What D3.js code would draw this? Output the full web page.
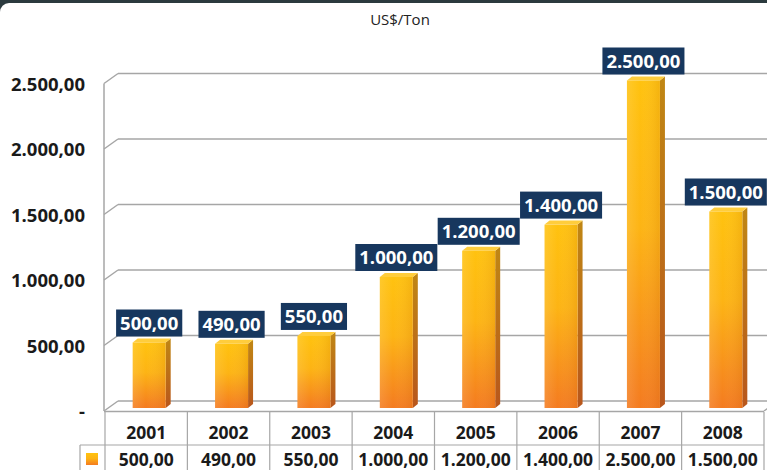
<!DOCTYPE html>
<html>
<head>
<meta charset="utf-8">
<script src="https://cdnjs.cloudflare.com/ajax/libs/d3/7.8.5/d3.min.js"></script>
<style>
  body { margin: 0; background: #fff; }
  svg { display: block; }
</style>
</head>
<body>
<svg id="chart" width="767" height="470"></svg>
<script>
// data
const years = ["2001", "2002", "2003", "2004", "2005", "2006", "2007", "2008"];
const prices = [500, 490, 550, 1000, 1200, 1400, 2500, 1500];
const yTicks = [0, 500, 1000, 1500, 2000, 2500];
const unitLabel = "US$/Ton";

const fontFamily = "'Open Sans', 'Noto Sans', sans-serif";

const ptBR = d3.formatLocale({ decimal: ",", thousands: ".", grouping: [3], currency: ["", ""] });
const num = ptBR.format(",.2f");
const fmt = v => v === 0 ? "-" : num(v);

const svg = d3.select("#chart");
const W = 767, H = 470;

// depth offset of the 3d walls
const dx = 14, dy = -10;
// bars sit a little behind the front plane
const bdx = 3, bdy = -3;
const sideW = 5, topH = 4, barW = 33;

const x = d3.scaleBand().domain(years).range([105, 764]).paddingInner(0);
const y = d3.scaleLinear().domain([0, 2500]).range([411, 83.5]);

//// frame
svg.append("rect").attr("x", 0).attr("y", 0).attr("width", W).attr("height", 14).attr("fill", "#2b3a3e");
svg.append("rect").attr("x", 0).attr("y", 3).attr("width", W + 20).attr("height", H).attr("rx", 9).attr("fill", "#fff");

svg.append("text")
  .attr("x", 400).attr("y", 25)
  .attr("text-anchor", "middle")
  .attr("font-family", fontFamily)
  .attr("font-size", 15)
  .attr("fill", "#222")
  .text(unitLabel);

//// defs: gradients
const defs = svg.append("defs");
const gFront = defs.append("linearGradient").attr("id", "gFront").attr("x1", 0).attr("y1", 0).attr("x2", 0).attr("y2", 1);
gFront.append("stop").attr("offset", "0%").attr("stop-color", "#ffc20f");
gFront.append("stop").attr("offset", "45%").attr("stop-color", "#fdb414");
gFront.append("stop").attr("offset", "100%").attr("stop-color", "#f47b20");
const gSide = defs.append("linearGradient").attr("id", "gSide").attr("x1", 0).attr("y1", 0).attr("x2", 0).attr("y2", 1);
gSide.append("stop").attr("offset", "0%").attr("stop-color", "#c08714");
gSide.append("stop").attr("offset", "100%").attr("stop-color", "#b8561c");
const gShade = defs.append("linearGradient").attr("id", "gShade").attr("x1", 0).attr("y1", 0).attr("x2", 1).attr("y2", 0);
gShade.append("stop").attr("offset", "0%").attr("stop-color", "#fff").attr("stop-opacity", 0.12);
gShade.append("stop").attr("offset", "40%").attr("stop-color", "#fff").attr("stop-opacity", 0);
gShade.append("stop").attr("offset", "100%").attr("stop-color", "#a04000").attr("stop-opacity", 0.12);

//// walls and gridlines
const grid = svg.append("g").attr("stroke", "#a6a6a6").attr("stroke-width", 1.5).attr("fill", "none");
yTicks.forEach(function(v){
  grid.append("line").attr("x1", 104 + dx).attr("x2", W + 2).attr("y1", y(v) + dy).attr("y2", y(v) + dy);
  grid.append("line").attr("x1", 104).attr("x2", 104 + dx).attr("y1", y(v)).attr("y2", y(v) + dy);
});
grid.append("line").attr("x1", 104).attr("x2", 104).attr("y1", y(2500)).attr("y2", y(0));
// floor front edge / table top
grid.append("line").attr("x1", 104).attr("x2", 764).attr("y1", y(0) + 0.5).attr("y2", y(0) + 0.5);
grid.append("line").attr("x1", 764).attr("x2", 764 + dx).attr("y1", y(0)).attr("y2", y(0) + dy);

//// y axis labels
const yAxis = d3.axisLeft(y).tickValues(yTicks).tickFormat(fmt).tickSize(0).tickPadding(0);
const ya = svg.append("g").attr("transform", "translate(85,0)").call(yAxis);
ya.select(".domain").remove();
ya.selectAll("text")
  .attr("font-family", fontFamily)
  .attr("font-size", 18.5)
  .attr("font-weight", "bold")
  .attr("fill", "#1a1a1a")
  .attr("dy", "0.36em");

//// bars
const bars = svg.append("g").selectAll("g")
  .data(years.map((yr, i) => ({ year: yr, value: prices[i] })))
  .join("g");

bars.each(function(d){
  const g = d3.select(this);
  const x0 = x(d.year) + x.bandwidth() / 2 - barW / 2 + bdx;
  const x1 = x0 + barW;
  const yt = y(d.value) + bdy;
  const yb = y(0) + bdy;
  g.append("path")
    .attr("d", `M${x1},${yt}L${x1 + sideW},${yt - topH}L${x1 + sideW},${yb - topH}L${x1},${yb}Z`)
    .attr("fill", "url(#gSide)");
  g.append("path")
    .attr("d", `M${x0},${yt}L${x0 + sideW},${yt - topH}L${x1 + sideW},${yt - topH}L${x1},${yt}Z`)
    .attr("fill", "#ffcd3c");
  g.append("rect").attr("x", x0).attr("y", yt).attr("width", barW).attr("height", yb - yt).attr("fill", "url(#gFront)");
  g.append("rect").attr("x", x0).attr("y", yt).attr("width", barW).attr("height", yb - yt).attr("fill", "url(#gShade)");

  // data label
  const cx = x0 + barW / 2;
  const t = g.append("text")
    .attr("x", cx).attr("y", yt - topH - 9)
    .attr("text-anchor", "middle")
    .attr("font-family", fontFamily)
    .attr("font-size", 18.5)
    .attr("font-weight", "bold")
    .attr("fill", "#fff")
    .text(num(d.value));
  const bb = t.node().getBBox();
  g.insert("rect", "text")
    .attr("x", bb.x - 4).attr("y", yt - topH - 29)
    .attr("width", bb.width + 8).attr("height", 27)
    .attr("fill", "#17375e");
});

//// data table
const tbl = svg.append("g");
const rowTop = 412, rowMid = 445, rowBot = 472;
const lines = tbl.append("g").attr("stroke", "#a6a6a6").attr("stroke-width", 1.2);
years.forEach(function(yr){
  lines.append("line").attr("x1", x(yr)).attr("x2", x(yr)).attr("y1", rowTop).attr("y2", rowBot);
});
lines.append("line").attr("x1", 764).attr("x2", 764).attr("y1", rowTop).attr("y2", rowBot);
lines.append("line").attr("x1", 80).attr("x2", 764).attr("y1", rowMid).attr("y2", rowMid);
lines.append("line").attr("x1", 80).attr("x2", 80).attr("y1", rowMid).attr("y2", rowBot);

tbl.selectAll(".yr")
  .data(years)
  .join("text")
  .attr("class", "yr")
  .attr("x", d => x(d) + x.bandwidth() / 2)
  .attr("y", 439)
  .attr("text-anchor", "middle")
  .attr("font-family", fontFamily)
  .attr("font-size", 17.5)
  .attr("font-weight", "bold")
  .attr("fill", "#1a1a1a")
  .text(d => d);

tbl.selectAll(".val")
  .data(prices)
  .join("text")
  .attr("class", "val")
  .attr("x", (d, i) => x(years[i]) + x.bandwidth() / 2)
  .attr("y", 466)
  .attr("text-anchor", "middle")
  .attr("font-family", fontFamily)
  .attr("font-size", 17.5)
  .attr("font-weight", "bold")
  .attr("fill", "#1a1a1a")
  .text(d => num(d));

// legend key
tbl.append("rect").attr("x", 86).attr("y", 453).attr("width", 12).attr("height", 12).attr("fill", "url(#gFront)");
</script>
</body>
</html>
